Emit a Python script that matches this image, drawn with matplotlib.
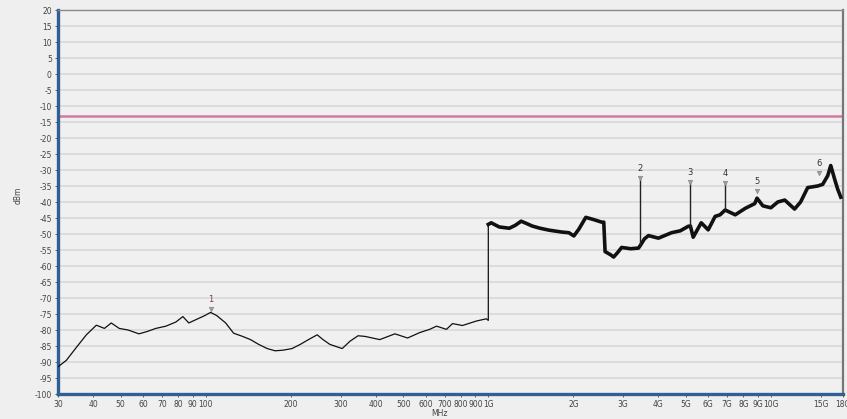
import numpy as np
import matplotlib
matplotlib.use("Agg")
import matplotlib.pyplot as plt

plt.rcParams["axes.unicode_minus"] = False

freq_mhz = [30, 32.1, 34.8, 37.8, 41.0, 43.8, 46.3, 49.4, 53.1, 58.0,
            61.9, 66.6, 72.3, 78.4, 83.0, 87.1, 93.7, 99.2, 104, 109.4,
            117.6, 125.5, 135, 144, 154, 165, 176, 188, 202, 216,
            231, 248, 260, 275, 304, 324, 346, 366, 413, 467,
            518, 572, 620, 656, 711, 747, 810, 907, 984, 1000,
            1000, 1024, 1093, 1186, 1245, 1307, 1372, 1429, 1524, 1640,
            1822, 1928, 2008, 2091, 2213, 2361, 2520, 2562, 2590, 2710,
            2776, 2868, 2964, 3190, 3400, 3456, 3570, 3690, 4000, 4450,
            4780, 5100, 5190, 5310, 5670, 6000, 6350, 6610, 6890, 7480,
            8110, 8770, 8930, 9370, 10000, 10580, 11200, 12130, 12740, 13500,
            14640, 15250, 15890, 16290, 16830, 17240, 17680]
nivel_dbm = [-91.5, -89.5, -85.5, -81.5, -78.5, -79.5, -77.8, -79.5, -80.0, -81.2,
             -80.5, -79.5, -78.8, -77.5, -75.8, -77.8, -76.5, -75.5, -74.5, -75.5,
             -77.8, -81.0, -82.0, -83.0, -84.5, -85.8, -86.5, -86.3, -85.8, -84.5,
             -83.0, -81.5, -83.0, -84.5, -85.8, -83.5, -81.8, -82.0, -83.0, -81.2,
             -82.5, -80.8, -79.8, -78.8, -79.8, -78.0, -78.6, -77.2, -76.5, -77.0,
             -47.0, -46.5, -47.8, -48.2, -47.3, -46.0, -46.8, -47.5, -48.2, -48.8,
             -49.4, -49.6, -50.6, -48.5, -44.8, -45.5, -46.3, -46.3, -55.5, -56.5,
             -57.2, -55.8, -54.2, -54.6, -54.4, -53.5, -51.5, -50.5, -51.3, -49.6,
             -49.0, -47.6, -47.5, -51.0, -46.5, -48.7, -44.5, -44.0, -42.5, -44.0,
             -42.0, -40.5, -38.8, -41.2, -41.8, -40.0, -39.4, -42.2, -40.0, -35.5,
             -35.0, -34.5, -31.8, -28.6, -33.0, -36.0, -38.5]
idx_1g = 50  # a partir de aquí la traza se ve más gruesa (ruido)

# picos estrechos (marcadores 2, 3, 4)
pico_freq = [3456, 5190, 6890]
pico_base = [-53.5, -48.0, -42.5]
pico_top = [-32.5, -33.7, -34.0]

# marcadores
marc_id = ["1", "2", "3", "4", "5", "6"]
marc_freq = [104, 3456, 5190, 6890, 8930, 14800]
marc_nivel = [-73.5, -32.5, -33.7, -34.0, -36.6, -31.0]

limite_dbm = -13

xticks = [30, 40, 50, 60, 70, 80, 90, 100, 200, 300, 400, 500, 600, 700, 800, 900,
          1000, 2000, 3000, 4000, 5000, 6000, 7000, 8000, 9000, 10000, 15000, 18000]
xtick_labels = ["30", "40", "50", "60", "70", "80", "90", "100", "200", "300", "400",
                "500", "600", "700", "800", "900", "1G", "2G", "3G", "4G", "5G", "6G",
                "7G", "8G", "9G", "10G", "15G", "18G"]

# --- figura ---
fig = plt.figure(figsize=(8.47, 4.19), dpi=100, facecolor="#efefef")
ax = fig.add_axes([58/847, 1 - 394/419, (843-58)/847, (394-10)/419])
ax.set_facecolor("#f0f0f0")

ax.set_xscale("log")
ax.set_xlim(30, 18000)
ax.set_ylim(-100, 20)

ax.set_yticks(np.arange(-100, 21, 5))
ax.yaxis.grid(True, color="#d9d9d9", linewidth=1.2)
ax.set_axisbelow(True)
ax.set_xticks(xticks)
ax.set_xticklabels(xtick_labels)
ax.xaxis.set_minor_locator(matplotlib.ticker.NullLocator())
ax.tick_params(labelsize=5.5, colors="#444444", length=2.5, width=0.6, pad=2)

ax.axhline(limite_dbm, color="#d27aa3", linewidth=1.8, zorder=2)

ax.plot(freq_mhz, nivel_dbm, color="#111111", linewidth=0.9, zorder=3)
ax.plot(freq_mhz[idx_1g:], nivel_dbm[idx_1g:], color="#111111", linewidth=2.6,
        solid_joinstyle="round", zorder=3)
ax.vlines(pico_freq, pico_base, pico_top, color="#222222", linewidth=1.0, zorder=3)

ax.scatter(marc_freq, marc_nivel, marker="v", s=10, color="#a0a0a0",
           edgecolors="#888888", linewidths=0.5, zorder=4)
for m, f, n in zip(marc_id, marc_freq, marc_nivel):
    col = "#7a3a5a" if m == "1" else "#333333"
    ax.text(f, n + 1.6, m, fontsize=6, color=col, ha="center", va="bottom", zorder=5)

for lado in ["left", "bottom"]:
    ax.spines[lado].set_color("#2f5f95")
    ax.spines[lado].set_linewidth(2.4)
ax.spines["top"].set_color("#8a8a8a")
ax.spines["top"].set_linewidth(1.0)
ax.spines["right"].set_color("#777777")
ax.spines["right"].set_linewidth(1.6)

fig.text(18/847, 1 - 195/419, "dBm", rotation=90, fontsize=5.5, color="#444444",
         ha="center", va="center")
fig.text(440/847, 1 - 413/419, "MHz", fontsize=5.5, color="#444444",
         ha="center", va="center")

fig.savefig("out.png", dpi=100, facecolor=fig.get_facecolor())
